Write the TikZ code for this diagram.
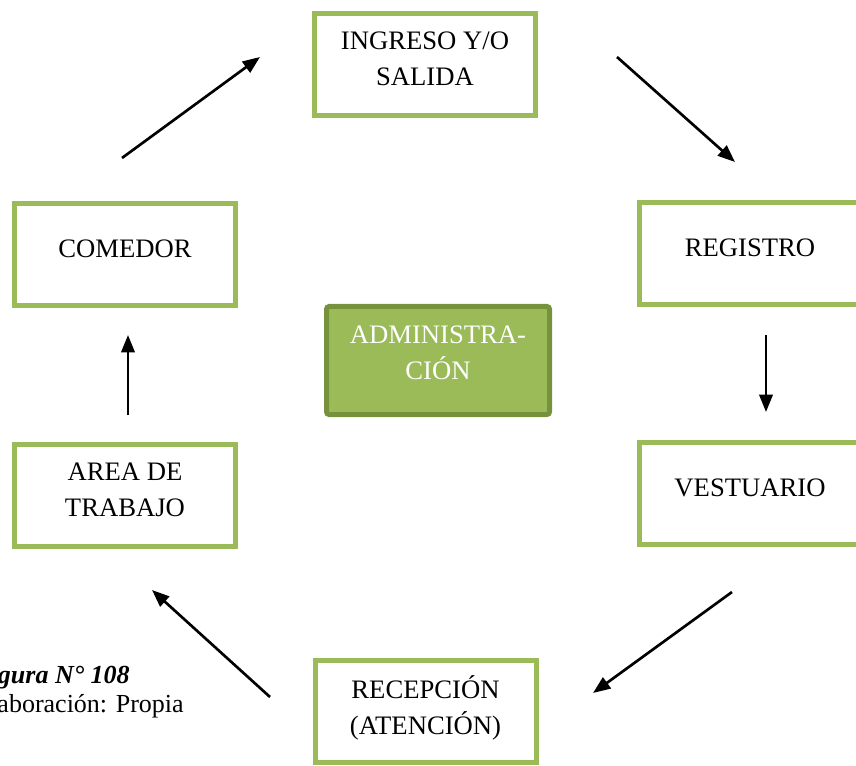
\documentclass[tikz,border=0pt]{standalone}
\usepackage{fontspec}
\setmainfont{Liberation Serif}
\usepackage{tikz}
\usetikzlibrary{arrows.meta, positioning}
\definecolor{boxgreen}{RGB}{155, 187, 89}
\definecolor{darkgreen}{RGB}{118, 146, 60}

\begin{document}
\begin{tikzpicture}[
  x=0.75pt, y=-0.75pt,
  box/.style={draw=boxgreen, line width=3.75pt, fill=white, inner sep=0pt, minimum width=165.75pt, minimum height=76.5pt, align=center, text depth=8.25pt, font=\fontsize{20pt}{27pt}\selectfont},
  adminbox/.style={box, draw=darkgreen, fill=boxgreen, text=white, rounded corners=2pt, minimum width=167.25pt, minimum height=81pt, text depth=12pt},
  caption/.style={anchor=base east, inner sep=0pt, font=\fontsize{19.5pt}{22pt}\selectfont},
  arrow/.style={-{Triangle[length=13pt, width=10pt]}, line width=2pt, black}
]
\useasboundingbox (0,0) rectangle (856,766);

% Cycle boxes
\node[box] (ingreso) at (425, 64.5) {INGRESO Y/O\\SALIDA};
\node[box] (registro) at (750, 253.5) {REGISTRO};
\node[box] (vestuario) at (750, 493.5) {VESTUARIO};
\node[box] (recepcion) at (425.5, 711) {RECEPCIÓN\\(ATENCIÓN)};
\node[box] (area) at (125, 495) {AREA DE\\TRABAJO};
\node[box] (comedor) at (125, 254.5) {COMEDOR};

% Center
\node[adminbox] (admin) at (438, 360.5) {ADMINISTRA-\\CIÓN};

% Arrow ends
\coordinate (a1) at (122, 158);
\coordinate (a2) at (260, 57);
\coordinate (b1) at (617, 57);
\coordinate (b2) at (735, 162);
\coordinate (c1) at (766, 335);
\coordinate (c2) at (766, 412);
\coordinate (d1) at (732, 592);
\coordinate (d2) at (593, 693);
\coordinate (e1) at (270, 697);
\coordinate (e2) at (152, 590);
\coordinate (f1) at (128, 415);
\coordinate (f2) at (128, 335);

\draw[arrow] (a1) -- (a2);
\draw[arrow] (b1) -- (b2);
\draw[arrow] (c1) -- (c2);
\draw[arrow] (d1) -- (d2);
\draw[arrow] (e1) -- (e2);
\draw[arrow] (f1) -- (f2);

% Caption
\node[caption] (fignum) at (130, 683) {\textbf{\textit{Figura N° 108}}};
\node[caption] (source) at (184, 712) {Elaboración: Propia};

\end{tikzpicture}
\end{document}
